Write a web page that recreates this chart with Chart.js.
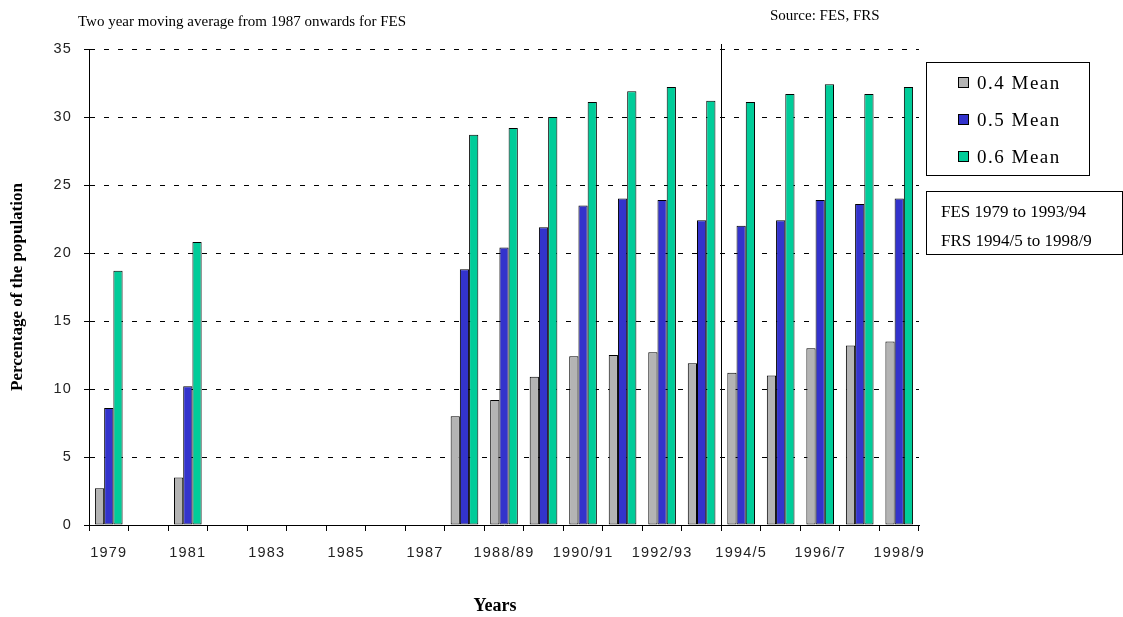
<!DOCTYPE html>
<html>
<head>
<meta charset="utf-8">
<title>Percentage of the population below mean income thresholds</title>
<script src="https://cdn.jsdelivr.net/npm/chart.js@4.4.1/dist/chart.umd.min.js"></script>
<style>
  html, body { margin: 0; padding: 0; background: #fff; }
  #wrap { position: relative; width: 1123px; height: 617px; }
</style>
</head>
<body>
<div id="wrap"><canvas id="chart" width="1123" height="617"></canvas></div>
<script>
// categories (one per survey year, labels shown every other one)
const years = ['1979', '1980', '1981', '1982', '1983', '1984', '1985', '1986', '1987',
  '1987/88', '1988/89', '1989/90', '1990/91', '1991/92', '1992/93', '1993/94',
  '1994/5', '1995/6', '1996/7', '1997/8', '1998/9'];

// % of population below each threshold (null = no data)
const mean04 = [2.7, null, 3.5, null, null, null, null, null, null,
  8.0, 9.2, 10.9, 12.4, 12.5, 12.7, 11.9, 11.2, 11.0, 13.0, 13.2, 13.5];
const mean05 = [8.6, null, 10.2, null, null, null, null, null, null,
  18.8, 20.4, 21.9, 23.5, 24.0, 23.9, 22.4, 22.0, 22.4, 23.9, 23.6, 24.0];
const mean06 = [18.7, null, 20.8, null, null, null, null, null, null,
  28.7, 29.2, 30.0, 31.1, 31.9, 32.2, 31.2, 31.1, 31.7, 32.4, 31.7, 32.2];

const seriesNames = ['0.4 Mean', '0.5 Mean', '0.6 Mean'];
const seriesColors = ['#b4b4b4', '#3333cc', '#00cc99'];
const yTicks = [0, 5, 10, 15, 20, 25, 30, 35];

const noteText = 'Two year moving average from 1987 onwards for FES';
const sourceText = 'Source: FES, FRS';
const surveyNotes = ['FES 1979 to 1993/94', 'FRS 1994/5 to 1998/9'];
const lastFes = '1993/94'; // vertical divider goes after this year

const serif = '"Liberation Serif", "Times New Roman", serif';
const sans = '"Liberation Sans", Arial, sans-serif';

// spaced-out tick labels like the original, normal text for the rest
const spacingPlugin = {
  id: 'spacing',
  beforeDraw(chart) { chart.ctx.letterSpacing = '1.2px'; },
  afterDraw(chart) { chart.ctx.letterSpacing = '0px'; }
};

// FES / FRS divider line
const dividerPlugin = {
  id: 'divider',
  afterDatasetsDraw(chart) {
    const x = chart.scales.x, y = chart.scales.y;
    const i = years.indexOf(lastFes);
    const px = Math.round((x.getPixelForValue(i) + x.getPixelForValue(i + 1)) / 2) + 0.5;
    const ctx = chart.ctx;
    ctx.save();
    ctx.strokeStyle = '#000';
    ctx.lineWidth = 1;
    ctx.beginPath();
    ctx.moveTo(px, y.top - 5);
    ctx.lineTo(px, y.bottom);
    ctx.stroke();
    ctx.restore();
  }
};

// titles, notes and the boxed legend
const notesPlugin = {
  id: 'notes',
  afterDraw(chart) {
    const ctx = chart.ctx;
    const area = chart.chartArea;
    ctx.save();
    ctx.letterSpacing = '0px';
    ctx.fillStyle = '#000';
    ctx.textBaseline = 'middle';

    ctx.font = '15px ' + serif;
    ctx.textAlign = 'left';
    ctx.fillText(noteText, 78, 22);
    ctx.fillText(sourceText, 770, 16);

    // axis titles
    ctx.font = 'bold 18px ' + serif;
    ctx.textAlign = 'center';
    ctx.fillText('Years', 495, 606);
    ctx.save();
    ctx.translate(18, (area.top + area.bottom) / 2);
    ctx.rotate(-Math.PI / 2);
    ctx.font = 'bold 17px ' + serif;
    ctx.fillText('Percentage of the population', 0, 0);
    ctx.restore();

    // legend box
    ctx.strokeStyle = '#000';
    ctx.lineWidth = 1;
    ctx.strokeRect(926.5, 62.5, 163, 113);
    ctx.textAlign = 'left';
    ctx.font = '19px ' + serif;
    ctx.letterSpacing = '1.5px';
    chart.data.datasets.forEach((ds, i) => {
      const cy = 83 + i * 37;
      ctx.fillStyle = ds.backgroundColor;
      ctx.fillRect(958.5, cy - 5.5, 10, 10);
      ctx.strokeRect(958.5, cy - 5.5, 10, 10);
      ctx.fillStyle = '#000';
      ctx.fillText(ds.label, 977, cy + 1);
    });

    // survey note box
    ctx.letterSpacing = '0px';
    ctx.strokeRect(926.5, 191.5, 196, 63);
    ctx.font = '17px ' + serif;
    surveyNotes.forEach((t, i) => ctx.fillText(t, 941, 213 + i * 29));
    ctx.restore();
  }
};

const datasets = [mean04, mean05, mean06].map((vals, i) => ({
  label: seriesNames[i],
  data: vals,
  backgroundColor: seriesColors[i],
  borderColor: '#000',
  borderWidth: 1,
  borderSkipped: false,
  barPercentage: 1.0,
  categoryPercentage: 0.7
}));

new Chart(document.getElementById('chart'), {
  type: 'bar',
  data: { labels: years, datasets },
  plugins: [spacingPlugin, dividerPlugin, notesPlugin],
  options: {
    responsive: false,
    animation: false,
    layout: { padding: { left: 0, top: 49, right: 204, bottom: 0 } },
    plugins: {
      legend: { display: false },
      tooltip: { enabled: false }
    },
    scales: {
      x: {
        type: 'category',
        offset: true,
        grid: { offset: true, drawOnChartArea: false, drawTicks: true, tickLength: 6, color: '#000' },
        border: { color: '#000', width: 1 },
        ticks: {
          autoSkip: false,
          maxRotation: 0,
          padding: 13,
          color: '#222',
          font: { family: sans, size: 14.5 },
          callback: (v, i) => (i % 2 === 0 ? years[i] : '')
        },
        afterFit: s => { s.height = 92; }
      },
      y: {
        min: 0,
        max: 35,
        afterBuildTicks: s => { s.ticks = yTicks.map(v => ({ value: v })); },
        grid: { color: '#000', lineWidth: 1, tickLength: 5, tickBorderDash: [] },
        border: { color: '#000', width: 1, dash: [5, 9] },
        ticks: { padding: 12, color: '#222', font: { family: sans, size: 14.5 } },
        afterFit: s => { s.width = 89; }
      }
    }
  }
});
</script>
</body>
</html>
